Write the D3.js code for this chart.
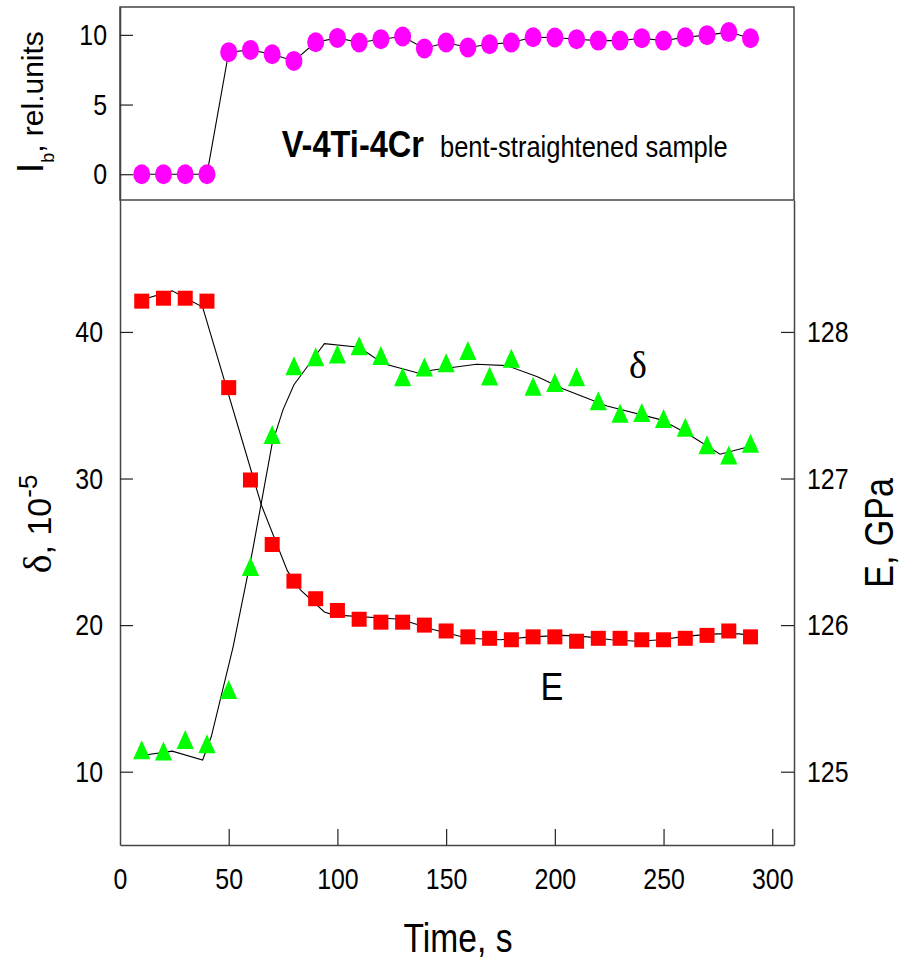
<!DOCTYPE html>
<html>
<head>
<meta charset="utf-8">
<script src="https://cdn.jsdelivr.net/npm/d3@7"></script>
<style>
html, body { margin: 0; padding: 0; background: #fff; }
svg { display: block; }
</style>
</head>
<body>
<div id="chart"></div>
<script>
// measured series, one value per 10 s
const times = [10, 20, 30, 40, 50, 60, 70, 80, 90, 100, 110, 120, 130, 140, 150,
               160, 170, 180, 190, 200, 210, 220, 230, 240, 250, 260, 270, 280, 290];

const ibValues = [0, 0, 0, 0, 8.76, 8.92, 8.61, 8.13, 9.47, 9.78, 9.45, 9.69, 9.88, 9.02, 9.45,
                  9.09, 9.33, 9.45, 9.83, 9.81, 9.69, 9.59, 9.59, 9.76, 9.59, 9.83, 9.98, 10.2, 9.76];

const modulusValues = [128.21, 128.23, 128.23, 128.21, 127.62, 126.99, 126.55, 126.30, 126.18, 126.10,
                       126.04, 126.02, 126.02, 126.00, 125.96, 125.92, 125.91, 125.90, 125.92, 125.92,
                       125.89, 125.91, 125.91, 125.90, 125.90, 125.91, 125.93, 125.96, 125.92];

const dampingValues = [11.5, 11.42, 12.2, 11.9, 15.6, 24.0, 33.0, 37.7, 38.3, 38.5,
                       39.05, 38.4, 36.95, 37.6, 37.9, 38.73, 37.0, 38.2, 36.3, 36.55,
                       36.95, 35.3, 34.45, 34.5, 34.1, 33.5, 32.3, 31.6, 32.4];

// smoothing curves drawn through the points
const modulusFitTimes = [10, 24, 38, 65, 77, 83, 94, 98, 129, 144, 160, 175, 189, 204, 215,
                         226, 238, 249, 258, 265, 275, 285, 290];
const modulusFitValues = [128.22, 128.28, 128.17, 126.82, 126.37, 126.24, 126.09, 126.07, 126.04, 125.97,
                          125.91, 125.90, 125.92, 125.93, 125.92, 125.90, 125.89, 125.90, 125.92, 125.93,
                          125.94, 125.94, 125.93];

const dampingFitTimes = [10, 24, 38, 42, 52, 61, 70, 75, 80, 84, 91, 94, 110, 121, 137, 144,
                         164, 178, 192, 204, 224, 249, 262, 276, 290];
const dampingFitValues = [11.1, 11.4, 10.8, 12.4, 18.5, 25.1, 32.4, 34.7, 36.4, 37.2, 38.6, 39.2,
                          38.95, 37.85, 37.2, 37.4, 37.8, 37.7, 36.95, 36.1, 34.95, 34.0, 32.97, 31.66, 32.2];

// tick labels
const timeTicks = [0, 50, 100, 150, 200, 250, 300];
const ibTicks = [0, 5, 10];
const dampingTicks = [10, 20, 30, 40];
const modulusTicks = [125, 126, 127, 128];

const sans = "'Liberation Sans', Arial, sans-serif";
const serif = "'Liberation Serif', 'Times New Roman', serif";

const svg = d3.select("#chart").append("svg")
    .attr("width", 901)
    .attr("height", 960);

// scales
const x = d3.scaleLinear().domain([0, 310]).range([120, 794]);
const yIb = d3.scaleLinear().domain([-1.85, 12]).range([200, 7]);
const yDelta = d3.scaleLinear().domain([5, 49]).range([845, 200]);
const yE = d3.scaleLinear().domain([124.5, 128.9]).range([845, 200]);

// squeeze text horizontally, the original uses a narrow face
function squeeze(sel, k) {
    sel.each(function () {
        const w = this.getComputedTextLength();
        d3.select(this).attr("textLength", w * k).attr("lengthAdjust", "spacingAndGlyphs");
    });
}

function styleAxis(g) {
    g.attr("font-family", sans).attr("font-size", 30);
    g.select(".domain").attr("stroke", "#444").attr("stroke-width", 1.5);
    g.selectAll(".tick line").attr("stroke", "#222").attr("stroke-width", 1.2);
    g.selectAll(".tick text").attr("fill", "#000");
}

// top panel frame
svg.append("rect")
    .attr("x", 120).attr("y", 7)
    .attr("width", 674).attr("height", 193)
    .attr("fill", "none")
    .attr("stroke", "#444")
    .attr("stroke-width", 1.5);

// axes
const gx = svg.append("g")
    .attr("transform", "translate(0,845)")
    .call(d3.axisBottom(x).tickValues(timeTicks).tickFormat(d3.format("d")).tickSize(-16).tickSizeOuter(0));
styleAxis(gx);
gx.selectAll(".tick text").attr("y", 44).attr("dy", null);
gx.selectAll(".tick").filter(d => d === 0).select("line").remove();

const gIb = svg.append("g")
    .attr("transform", "translate(120,0)")
    .call(d3.axisLeft(yIb).tickValues(ibTicks).tickFormat(d3.format("d")).tickSize(-13).tickPadding(13).tickSizeOuter(0));
styleAxis(gIb);

const gDelta = svg.append("g")
    .attr("transform", "translate(120,0)")
    .call(d3.axisLeft(yDelta).tickValues(dampingTicks).tickFormat(d3.format("d")).tickSize(-13).tickPadding(17).tickSizeOuter(0));
styleAxis(gDelta);

const gE = svg.append("g")
    .attr("transform", "translate(794,0)")
    .call(d3.axisRight(yE).tickValues(modulusTicks).tickFormat(d3.format("d")).tickSize(-13).tickPadding(13).tickSizeOuter(0));
styleAxis(gE);

squeeze(svg.selectAll(".tick text"), 0.83);

// lines
const ibLine = d3.line().x((d, i) => x(times[i])).y(d => yIb(d));
svg.append("path")
    .datum(ibValues)
    .attr("d", ibLine)
    .attr("fill", "none").attr("stroke", "#000").attr("stroke-width", 1.1);

const eFitLine = d3.line().x((d, i) => x(modulusFitTimes[i])).y(d => yE(d));
svg.append("path")
    .datum(modulusFitValues)
    .attr("d", eFitLine)
    .attr("fill", "none").attr("stroke", "#000").attr("stroke-width", 1.1);

const deltaFitLine = d3.line().x((d, i) => x(dampingFitTimes[i])).y(d => yDelta(d));
svg.append("path")
    .datum(dampingFitValues)
    .attr("d", deltaFitLine)
    .attr("fill", "none").attr("stroke", "#000").attr("stroke-width", 1.1);

// markers
svg.append("g").selectAll("ellipse")
    .data(ibValues)
    .join("ellipse")
    .attr("cx", (d, i) => x(times[i]))
    .attr("cy", d => yIb(d))
    .attr("rx", 8.5).attr("ry", 10)
    .attr("fill", "#ff00ff");

svg.append("g").selectAll("rect")
    .data(modulusValues)
    .join("rect")
    .attr("x", (d, i) => x(times[i]) - 7.5)
    .attr("y", d => yE(d) - 7.5)
    .attr("width", 15).attr("height", 15)
    .attr("fill", "#ff0000");

svg.append("g").selectAll("path")
    .data(dampingValues)
    .join("path")
    .attr("transform", (d, i) => `translate(${x(times[i])},${yDelta(d)})`)
    .attr("d", "M0,-9.5L8.6,9.5L-8.6,9.5Z")
    .attr("fill", "#00ff00");

// text helper: group with position, rotation and horizontal squeeze
function label(px, py, rot, k) {
    return svg.append("g")
        .attr("transform", `translate(${px},${py}) rotate(${rot}) scale(${k},1)`)
        .append("text")
        .attr("font-family", sans)
        .attr("fill", "#000");
}

// panel annotation
label(281.7, 156.7, 0, 0.88)
    .attr("font-size", 37).attr("font-weight", "bold")
    .text("V-4Ti-4Cr");
label(440, 157, 0, 0.85)
    .attr("font-size", 30)
    .text("bent-straightened sample");

// curve labels
label(638, 378, 0, 1)
    .attr("font-family", serif).attr("font-size", 38).attr("text-anchor", "middle")
    .text("δ");
label(552, 700, 0, 0.9)
    .attr("font-size", 38).attr("text-anchor", "middle")
    .text("E");

// axis titles
label(458, 951.7, 0, 0.84)
    .attr("font-size", 40).attr("text-anchor", "middle")
    .text("Time, s");

label(892.7, 533, -90, 0.85)
    .attr("font-size", 40).attr("text-anchor", "middle")
    .text("E, GPa");

const deltaTitle = label(51, 524, -90, 1).attr("text-anchor", "middle");
deltaTitle.append("tspan").attr("font-family", serif).attr("font-size", 40).text("δ");
deltaTitle.append("tspan").attr("font-size", 34).text(", 10");
deltaTitle.append("tspan").attr("font-size", 26).attr("dy", -14).text("-5");

const ibTitle = label(43.3, 102, -90, 1).attr("text-anchor", "middle");
ibTitle.append("tspan").attr("font-size", 36).text("I");
ibTitle.append("tspan").attr("font-size", 18).attr("dy", 11).text("b");
ibTitle.append("tspan").attr("font-size", 30).attr("dy", -11).text(", rel.units");
</script>
</body>
</html>
